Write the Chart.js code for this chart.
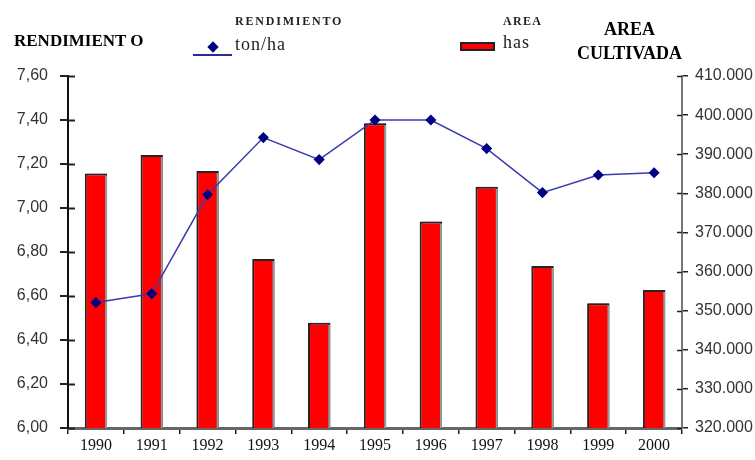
<!DOCTYPE html>
<html>
<head>
<meta charset="utf-8">
<script src="https://cdn.jsdelivr.net/npm/chart.js@4/dist/chart.umd.min.js"></script>
<style>
  body { margin: 0; background: #fff; }
  #wrap { position: relative; width: 755px; height: 460px; }
  canvas { position: absolute; left: 0; top: 0; }
  .t { position: absolute; font-family: "Liberation Serif", serif; color: #000; white-space: nowrap; }
  .b { font-weight: bold; }
</style>
</head>
<body>
<div id="wrap">
  <canvas id="chart" width="755" height="460"></canvas>
  <div class="t b" style="left:14px; top:31px; font-size:17px;">RENDIMIENT O</div>
  <div class="t b" style="left:235px; top:14px; font-size:12px; letter-spacing:1.8px; color:#222;">RENDIMIENTO</div>
  <div class="t" style="left:235px; top:34px; font-size:18px; letter-spacing:1px; color:#222;">ton/ha</div>
  <div class="t b" style="left:503px; top:14px; font-size:12px; letter-spacing:1.3px; color:#222;">AREA</div>
  <div class="t" style="left:503px; top:32px; font-size:18px; letter-spacing:1px; color:#222;">has</div>
  <div class="t b" style="left:577px; top:17px; width:105px; text-align:center; font-size:18px; line-height:24px;">AREA<br>CULTIVADA</div>
  <!-- legend markers -->
  <div style="position:absolute; left:193px; top:54px; width:39px; height:2px; background:#2a2a9a;"></div>
  <div style="position:absolute; left:209px; top:43px; width:8px; height:8px; background:#000080; transform:rotate(45deg);"></div>
  <div style="position:absolute; left:460px; top:42px; width:31px; height:5px; background:#ff0000; border:2px solid #222;"></div>
</div>
<script>
// Chart data
const years = ["1990", "1991", "1992", "1993", "1994", "1995", "1996", "1997", "1998", "1999", "2000"];
const rendimiento = [6.57, 6.61, 7.06, 7.32, 7.22, 7.40, 7.40, 7.27, 7.07, 7.15, 7.16]; // ton/ha
const area = [385100, 389800, 385700, 363200, 346900, 397900, 372800, 381700, 361400, 351900, 355300]; // has

// gray shadow at the right of the bars + ticks that cross the vertical axes
const barShadow = {
    id: 'barShadow',
    beforeDatasetDraw(chart, args) {
        if (args.meta.type !== 'bar') return;
        const ctx = chart.ctx;
        ctx.save();
        ctx.shadowColor = '#8c9c9c';
        ctx.shadowOffsetX = 2;
        ctx.shadowOffsetY = 0;
    },
    afterDatasetDraw(chart, args) {
        if (args.meta.type !== 'bar') return;
        chart.ctx.restore();
    }
};

const crossTicks = {
    id: 'crossTicks',
    afterDraw(chart) {
        const ctx = chart.ctx;
        const yl = chart.scales.y, yr = chart.scales.y2;
        ctx.save();
        ctx.lineWidth = 2;
        ctx.strokeStyle = '#222';
        yl.ticks.forEach(t => {
            const py = Math.round(yl.getPixelForValue(t.value)) + 0.5;
            ctx.beginPath(); ctx.moveTo(yl.right, py); ctx.lineTo(yl.right + 7, py); ctx.stroke();
        });
        ctx.lineWidth = 1.5;
        yr.ticks.forEach(t => {
            const py = Math.round(yr.getPixelForValue(t.value)) + 0.5;
            ctx.beginPath(); ctx.moveTo(yr.left, py); ctx.lineTo(yr.left - 5, py); ctx.stroke();
        });
        ctx.restore();
    }
};

new Chart(document.getElementById('chart'), {
    type: 'bar',
    data: {
        labels: years,
        datasets: [
            {
                type: 'line',
                label: 'RENDIMIENTO ton/ha',
                data: rendimiento,
                yAxisID: 'y',
                borderColor: '#3b3bb0',
                borderWidth: 1.5,
                pointStyle: 'rectRot',
                pointRadius: 4.5,
                pointBackgroundColor: '#000080',
                pointBorderColor: '#000080',
                tension: 0,
                order: 0
            },
            {
                type: 'bar',
                label: 'AREA has',
                data: area,
                yAxisID: 'y2',
                backgroundColor: '#ff0000',
                borderColor: '#2a2222',
                borderWidth: 2,
                barPercentage: 0.8,
                categoryPercentage: 0.5,
                order: 1
            }
        ]
    },
    options: {
        responsive: false,
        animation: false,
        layout: { padding: { top: 76, left: 0, right: 0, bottom: 0 } },
        plugins: {
            legend: { display: false },
            tooltip: { enabled: false }
        },
        scales: {
            x: {
                offset: true,
                grid: { offset: true, drawOnChartArea: false, tickLength: 6, color: '#222', lineWidth: 1.5 },
                border: { color: '#666', width: 3 },
                ticks: { color: '#111', font: { family: 'Liberation Serif', size: 16 }, padding: 2, maxRotation: 0 },
                afterFit(s) { s.height = 32; }
            },
            y: {
                position: 'left',
                min: 6, max: 7.6,
                grid: { drawOnChartArea: false, tickLength: 8, color: '#222', lineWidth: 2 },
                border: { color: '#111', width: 2 },
                ticks: {
                    stepSize: 0.2,
                    color: '#333',
                    padding: 12,
                    font: { family: 'Liberation Sans', size: 16 },
                    callback: v => v.toFixed(2).replace('.', ',')
                },
                afterFit(s) { s.width = 68; }
            },
            y2: {
                position: 'right',
                min: 320000, max: 410000,
                grid: { drawOnChartArea: false, tickLength: 6, color: '#222', lineWidth: 1.5 },
                border: { color: '#777', width: 2 },
                ticks: {
                    stepSize: 10000,
                    color: '#333',
                    padding: 7,
                    font: { family: 'Liberation Sans', size: 16 },
                    callback: v => v.toLocaleString('de-DE')
                },
                afterFit(s) { s.width = 73; }
            }
        }
    },
    plugins: [barShadow, crossTicks]
});
</script>
</body>
</html>
